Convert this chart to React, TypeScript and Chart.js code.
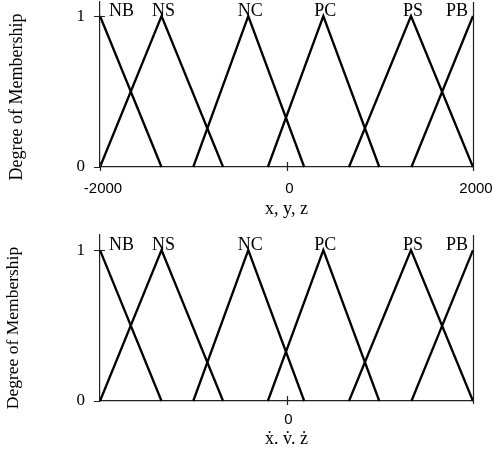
import { useEffect, useRef } from "react";
import { Chart, registerables } from "chart.js";

Chart.register(...registerables);

// Membership function names and breakpoints (same partition in both panels)
const mfNames = ["NB", "NS", "NC", "PC", "PS", "PB"];
const nbX = [-2000, -1340];
const nbY = [1, 0];
const nsX = [-2000, -1340, -680];
const nsY = [0, 1, 0];
const ncX = [-1000, -410, 190];
const ncY = [0, 1, 0];
const pcX = [-200, 395, 995];
const pcY = [0, 1, 0];
const psX = [670, 1335, 2000];
const psY = [0, 1, 0];
const pbX = [1340, 2000];
const pbY = [0, 1];
const peakX = [-2000, -1340, -410, 395, 1335, 2000];

const topXTicks = [-2000, 0, 2000];
const bottomXTicks = [0];
const yTicks = [0, 1];

const topXTitle = "x, y, z";
const bottomXTitle = "ẋ. v̇. ż";
const yTitle = "Degree of Membership";

const mfX = [nbX, nsX, ncX, pcX, psX, pbX];
const mfY = [nbY, nsY, ncY, pcY, psY, pbY];

function buildDatasets() {
  return mfNames.map((name, i) => ({
    label: name,
    data: mfX[i].map((x, j) => ({ x, y: mfY[i][j] })),
    showLine: true,
    borderColor: "#000",
    borderWidth: 2.3,
    pointRadius: 0,
    fill: false,
    clip: false as any,
  }));
}

type Deco = {
  xTicks: number[];
  titleX: number;
  titleY: number;
  titleSize: number;
};

function decoPlugin(d: Deco) {
  return {
    id: "deco",
    afterDraw(chart: any) {
      const { ctx, chartArea } = chart;
      const xs = chart.scales.x;
      const ys = chart.scales.y;
      ctx.save();
      ctx.strokeStyle = "#222";
      ctx.lineWidth = 1.2;
      ctx.beginPath();
      // right frame line
      ctx.moveTo(Math.round(chartArea.right) + 0.5, chartArea.top);
      ctx.lineTo(Math.round(chartArea.right) + 0.5, chartArea.bottom + 3);
      // x tick marks crossing the axis
      d.xTicks.forEach((v) => {
        const px = Math.round(xs.getPixelForValue(v)) + 0.5;
        ctx.moveTo(px, chartArea.bottom - 5);
        ctx.lineTo(px, chartArea.bottom + 4);
      });
      // y tick at 1 crossing the axis
      const p1 = Math.round(ys.getPixelForValue(1)) + 0.5;
      ctx.moveTo(chartArea.left - 6, p1);
      ctx.lineTo(chartArea.left + 5, p1);
      const p0 = Math.round(ys.getPixelForValue(0)) + 0.5;
      ctx.moveTo(chartArea.left - 6, p0);
      ctx.lineTo(chartArea.left, p0);
      ctx.stroke();

      // membership labels above peaks
      ctx.fillStyle = "#000";
      ctx.font = '18px "Liberation Serif"';
      ctx.textBaseline = "alphabetic";
      const py = ys.getPixelForValue(1) - 0.5;
      mfNames.forEach((n, i) => {
        const px = xs.getPixelForValue(peakX[i]);
        if (i === 0) {
          ctx.textAlign = "left";
          ctx.fillText(n, px + 9, py);
        } else if (i === mfNames.length - 1) {
          ctx.textAlign = "right";
          ctx.fillText(n, px - 5, py);
        } else {
          ctx.textAlign = "center";
          ctx.fillText(n, px + 2, py);
        }
      });

      // rotated y title
      ctx.translate(d.titleX, d.titleY);
      ctx.rotate(-Math.PI / 2);
      ctx.textAlign = "center";
      ctx.textBaseline = "middle";
      ctx.font = `${d.titleSize}px "Liberation Serif"`;
      ctx.fillText(yTitle, 0, 0);
      ctx.restore();
    },
  };
}

function makeConfig(opts: {
  xTicks: number[];
  xTitle: string;
  yMax: number;
  padTop: number;
  xHeight: number;
  tickPad: number;
  labelOffset: number;
  titlePadBottom: number;
  titleX: number;
  titleY: number;
  titleSize: number;
}): any {
  return {
    type: "scatter",
    data: { datasets: buildDatasets() },
    options: {
      animation: false,
      responsive: false,
      layout: { padding: { top: opts.padTop, right: 27, left: 0, bottom: 0 } },
      plugins: { legend: { display: false }, tooltip: { enabled: false } },
      scales: {
        x: {
          type: "linear",
          min: -2000,
          max: 2000,
          afterBuildTicks: (s: any) => {
            s.ticks = opts.xTicks.map((v) => ({ value: v }));
          },
          afterFit: (s: any) => {
            s.height = opts.xHeight;
            s.paddingLeft = 0;
            s.paddingRight = 0;
          },
          grid: { display: false, drawTicks: false },
          border: { display: true, color: "#222", width: 1.2 },
          ticks: {
            padding: opts.tickPad,
            labelOffset: opts.labelOffset,
            autoSkip: false,
            maxRotation: 0,
            color: "#000",
            font: { family: "Liberation Sans", size: 15 },
            callback: (v: any) => String(v),
          },
          title: {
            display: true,
            text: opts.xTitle,
            color: "#000",
            font: { family: "Liberation Serif", size: 18, lineHeight: 1 },
            padding: { top: 0, bottom: opts.titlePadBottom },
          },
        },
        y: {
          type: "linear",
          min: 0,
          max: opts.yMax,
          afterBuildTicks: (s: any) => {
            s.ticks = yTicks.map((v) => ({ value: v }));
          },
          afterFit: (s: any) => {
            s.width = 100;
            s.paddingTop = 0;
            s.paddingBottom = 0;
          },
          grid: { display: false, drawTicks: false },
          border: { display: true, color: "#222", width: 1.2 },
          ticks: {
            padding: 15,
            color: "#000",
            font: { family: "Liberation Serif", size: 17 },
            callback: (v: any) => String(v),
          },
        },
      },
    },
    plugins: [
      decoPlugin({ xTicks: opts.xTicks, titleX: opts.titleX, titleY: opts.titleY, titleSize: opts.titleSize }),
    ],
  };
}

export default function App() {
  const topRef = useRef<HTMLCanvasElement>(null);
  const botRef = useRef<HTMLCanvasElement>(null);

  useEffect(() => {
    const c1 = new Chart(
      topRef.current!,
      makeConfig({
        xTicks: topXTicks,
        xTitle: topXTitle,
        yMax: 1.093,
        padTop: 2,
        xHeight: 53,
        tickPad: 13,
        labelOffset: 3,
        titlePadBottom: 2,
        titleX: 17,
        titleY: 97,
        titleSize: 18,
      })
    );
    const c2 = new Chart(
      botRef.current!,
      makeConfig({
        xTicks: bottomXTicks,
        xTitle: bottomXTitle,
        yMax: 1.1,
        padTop: 15,
        xHeight: 48,
        tickPad: 10,
        labelOffset: 2,
        titlePadBottom: 0.5,
        titleX: 13,
        titleY: 108,
        titleSize: 17.5,
      })
    );
    return () => {
      c1.destroy();
      c2.destroy();
    };
  }, []);

  return (
    <div style={{ position: "absolute", left: 0, top: 0, width: 500, height: 449, background: "#fff" }}>
      <canvas ref={topRef} width={500} height={220} style={{ position: "absolute", left: 0, top: 0 }} />
      <canvas ref={botRef} width={500} height={229} style={{ position: "absolute", left: 0, top: 220 }} />
    </div>
  );
}
